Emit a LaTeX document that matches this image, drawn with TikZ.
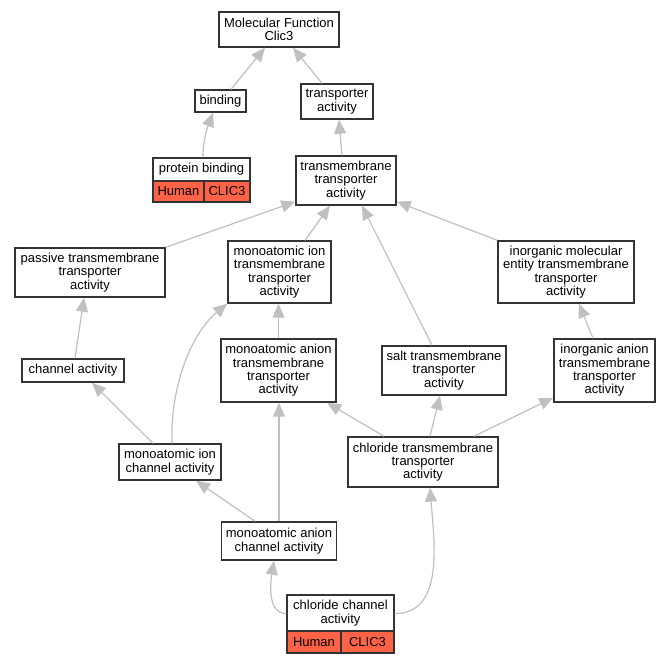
\documentclass[tikz,border=0pt]{standalone}
\usepackage{fontspec}
\setmainfont{Liberation Sans}
\usetikzlibrary{arrows.meta}
\definecolor{edgegray}{HTML}{C0C0C0}
\definecolor{tomatofill}{HTML}{FF6347}
\definecolor{boxline}{HTML}{333333}
\begin{document}
\begin{tikzpicture}[x=1pt,y=-1pt,
  box/.style={draw=boxline,line width=1.4pt,fill=white,inner sep=0pt,align=center,
    font=\fontsize{13}{13.3}\selectfont},
  cell/.style={box,fill=tomatofill},
  edge/.style={draw=edgegray,line width=1.2pt,-{Triangle[length=14pt,width=12pt]}}]
\useasboundingbox (0,0) rectangle (669,664);
\fill[white] (0,0) rectangle (669,664);

% nodes
\node[box,minimum width=120pt,minimum height=35pt] (mf) at (279,29.5) {Molecular Function\\Clic3};
\node[box,minimum width=51pt,minimum height=22pt] (bind) at (220.5,101) {binding};
\node[box,minimum width=72pt,minimum height=35pt] (trans) at (337,101.5) {transporter\\activity};
\node[box,minimum width=97pt,minimum height=23pt] (pb) at (201.5,169.5) {protein binding};
\node[cell,minimum width=51pt,minimum height=21pt] (pbh) at (178.5,191.5) {Human};
\node[cell,minimum width=46pt,minimum height=21pt] (pbc) at (227,191.5) {CLIC3};
\node[box,minimum width=100pt,minimum height=49pt] (tta) at (346,180.5) {transmembrane\\transporter\\activity};
\node[box,minimum width=150pt,minimum height=49pt] (passive) at (90,272.5) {passive transmembrane\\transporter\\activity};
\node[box,minimum width=103pt,minimum height=62pt] (mitt) at (279.5,272) {monoatomic ion\\transmembrane\\transporter\\activity};
\node[box,minimum width=136pt,minimum height=62pt] (imetta) at (566,272) {inorganic molecular\\entity transmembrane\\transporter\\activity};
\node[box,minimum width=102pt,minimum height=23pt] (chan) at (73,370.5) {channel activity};
\node[box,minimum width=115pt,minimum height=63pt] (matt) at (278.5,370.5) {monoatomic anion\\transmembrane\\transporter\\activity};
\node[box,minimum width=124pt,minimum height=49pt] (salt) at (444,370.5) {salt transmembrane\\transporter\\activity};
\node[box,minimum width=101pt,minimum height=63pt] (iatt) at (604.5,370.5) {inorganic anion\\transmembrane\\transporter\\activity};
\node[box,minimum width=102pt,minimum height=36pt] (mic) at (170,462) {monoatomic ion\\channel activity};
\node[box,minimum width=150pt,minimum height=50pt] (ctt) at (423,462) {chloride transmembrane\\transporter\\activity};
\node[box,minimum width=115pt,minimum height=38pt] (mac) at (279,541) {monoatomic anion\\channel activity};
\node[box,minimum width=107pt,minimum height=36pt] (cc) at (340.5,613) {chloride channel\\activity};
\node[cell,minimum width=54pt,minimum height=22pt] (cch) at (314,642) {Human};
\node[cell,minimum width=53pt,minimum height=22pt] (ccc) at (367.5,642) {CLIC3};

% edges
\draw[edge] ([xshift=10.5pt]bind.north) -- ([xshift=-14pt]mf.south);
\draw[edge] ([xshift=-15pt]trans.north) -- ([xshift=14pt]mf.south);
\draw[edge] ([xshift=1.5pt]pb.north) .. controls (203,138) and (208,126) .. ([xshift=-7.5pt]bind.south);
\draw[edge] ([xshift=-4pt]tta.north) -- ([xshift=2pt]trans.south);
\draw[edge] (passive.north east) -- ([yshift=4pt]tta.south west);
\draw[edge] ([xshift=25.5pt]mitt.north) -- ([xshift=-16pt]tta.south);
\draw[edge] ([xshift=-12pt]salt.north) -- ([xshift=16pt]tta.south);
\draw[edge] (imetta.north west) -- ([yshift=4pt]tta.south east);
\draw[edge] ([xshift=2pt]chan.north) -- ([xshift=-6pt]passive.south);
\draw[edge] ([xshift=-11.5pt]iatt.north) -- ([xshift=13pt]imetta.south);
\draw[edge] (matt.north) -- (matt.north |- mitt.south);
\draw[edge] ([xshift=-17pt]mic.north) -- ([xshift=19pt]chan.south);
\draw[edge] ([xshift=2pt]mic.north) .. controls (170,380) and (195,330) .. (mitt.south west);
\draw[edge] ([xshift=-39pt]ctt.north) -- ([xshift=48.5pt]matt.south);
\draw[edge] ([xshift=7pt]ctt.north) -- ([xshift=-4pt]salt.south);
\draw[edge] ([xshift=51pt]ctt.north) -- ([yshift=5pt]iatt.south west);
\draw[edge] ([xshift=-24pt]mac.north) -- ([xshift=26pt]mic.south);
\draw[edge] (mac.north) -- (mac.north |- matt.south);
\draw[edge] ([yshift=-0.5pt]cc.west) .. controls (268,614) and (270,585) .. ([xshift=-5pt]mac.south);
\draw[edge] ([yshift=-0.5pt]cc.east) .. controls (445,614) and (434,540) .. ([xshift=7pt]ctt.south);
\end{tikzpicture}
\end{document}
